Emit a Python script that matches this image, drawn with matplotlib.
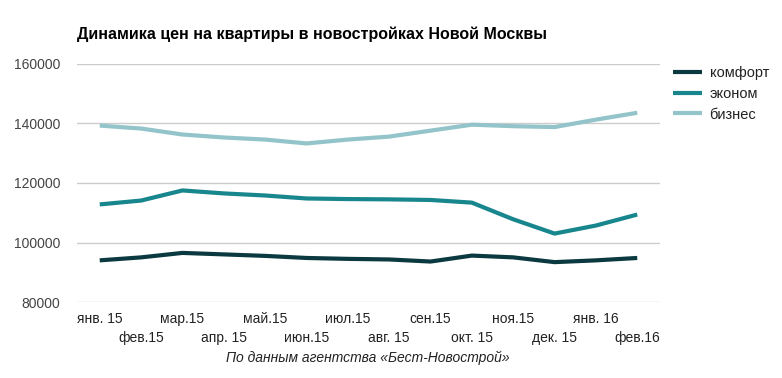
import numpy as np
import matplotlib.pyplot as plt

plt.rcParams['font.family'] = ['Liberation Sans', 'DejaVu Sans']

months = ['янв. 15', 'фев.15', 'мар.15', 'апр. 15', 'май.15', 'июн.15', 'июл.15',
          'авг. 15', 'сен.15', 'окт. 15', 'ноя.15', 'дек. 15', 'янв. 16', 'фев.16']
komfort = [94000, 95000, 96500, 96000, 95500, 94800, 94500,
           94300, 93600, 95600, 95000, 93400, 94000, 94800]
ekonom = [112800, 114100, 117500, 116500, 115800, 114800, 114600,
          114500, 114300, 113400, 107800, 103000, 105700, 109400]
biznes = [139300, 138300, 136300, 135300, 134600, 133300, 134600,
          135600, 137600, 139600, 139100, 138800, 141300, 143600]
yticks = [80000, 100000, 120000, 140000, 160000]

fig = plt.figure(figsize=(7.82, 3.78), dpi=100)
ax = fig.add_axes([77 / 782, 1 - 302 / 378, (660 - 77) / 782, (302 - 64) / 378])

x = np.arange(len(months))
ax.plot(x, komfort, color='#0a3a3f', lw=3, label='комфорт', solid_capstyle='butt')
ax.plot(x, ekonom, color='#17868d', lw=3, label='эконом', solid_capstyle='butt')
ax.plot(x, biznes, color='#93c4c9', lw=3, label='бизнес', solid_capstyle='butt')

ax.set_ylim(80000, 160000)
ax.set_xlim(-0.55, 13.55)
ax.set_yticks(yticks)
ax.set_yticklabels([str(v) for v in yticks])
ax.grid(axis='y', color='#cccccc', lw=1)
ax.set_axisbelow(True)
for s in ax.spines.values():
    s.set_visible(False)
ax.tick_params(axis='both', length=0, labelsize=10, colors='#444444')
ax.tick_params(axis='y', pad=12)

ax.set_xticks(x)
ax.set_xticklabels(['' for _ in months])
for i, m in enumerate(months):
    dy = -0.07 if i % 2 == 0 else -0.15
    ax.text(i, dy, m, transform=ax.get_xaxis_transform(), ha='center', va='center',
            fontsize=10, color='#222222')

fig.text(77 / 782, 1 - 34 / 378, 'Динамика цен на квартиры в новостройках Новой Москвы',
         fontsize=11.5, fontweight='bold', va='center', ha='left')
fig.text(368 / 782, 1 - 358 / 378, 'По данным агентства «Бест-Новострой»',
         fontsize=10, style='italic', color='#222222', va='center', ha='center')

leg = ax.legend(loc='upper left', bbox_to_anchor=(1.0, 1.045), frameon=False,
                fontsize=10.5, handlelength=2.0, handletextpad=0.5, labelspacing=0.45)
for t in leg.get_texts():
    t.set_color('#222222')

fig.savefig('out.png', dpi=100, facecolor='white')
